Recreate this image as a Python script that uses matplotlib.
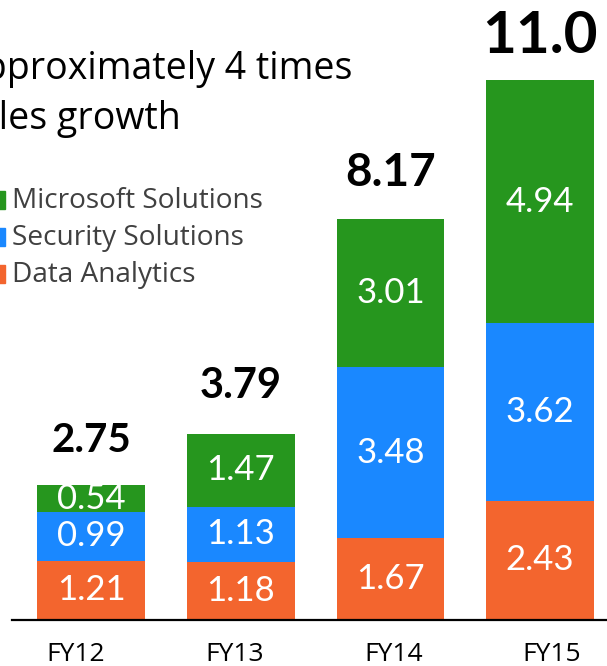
import matplotlib
matplotlib.use("Agg")
import matplotlib.pyplot as plt
from matplotlib.patches import Rectangle
import numpy as np

plt.rcParams['font.family'] = ['Open Sans', 'DejaVu Sans']

years = ["FY12", "FY13", "FY14", "FY15"]
data_analytics = [1.21, 1.18, 1.67, 2.43]
security = [0.99, 1.13, 3.48, 3.62]
microsoft = [0.54, 1.47, 3.01, 4.94]
totals = ["2.75", "3.79", "8.17", "11.0"]

series = [
    ("Data Analytics", data_analytics, "#f3652e"),
    ("Security Solutions", security, "#1a88ff"),
    ("Microsoft Solutions", microsoft, "#26961e"),
]

W, H = 607, 666
fig = plt.figure(figsize=(W / 100, H / 100), dpi=100)
ax = fig.add_axes([12 / W, 46 / H, 1 - 12 / W, 1 - 46 / H])

x = np.arange(len(years))
bottom = np.zeros(len(years))
for name, vals, color in series:
    vals = np.array(vals)
    ax.bar(x, vals, width=0.72, bottom=bottom, color=color, linewidth=0)
    for xi, b, v in zip(x, bottom, vals):
        ax.text(xi, b + v / 2, f"{v:.2f}", ha="center", va="center",
                color="white", fontsize=25, family="Lato")
    bottom = bottom + vals

# totals above each stack (the last one is drawn larger)
total_sizes = [29, 30, 33, 42]
total_gaps = [24, 26, 24, 20]
for xi, top, lab, fs, gap in zip(x, bottom, totals, total_sizes, total_gaps):
    ax.annotate(lab, (xi, top), xytext=(0, gap), textcoords="offset points",
                ha="center", va="baseline", fontsize=fs, fontweight="bold",
                family="Lato", color="black")

ax.set_xlim(-0.528, 3.447)
ax.set_ylim(0, 12.627)
ax.set_yticks([])
ax.set_xticks([])
# year labels sit on a slightly wider spacing than the bars
for xi, yr in zip(x * 1.06 - 0.1, years):
    ax.annotate(yr, (xi, 0), xytext=(0, -25), textcoords="offset points",
                ha="center", va="center", fontsize=19, color="black",
                annotation_clip=False)
for s in ["top", "right", "left"]:
    ax.spines[s].set_visible(False)
ax.spines["bottom"].set_linewidth(1.6)
ax.patch.set_alpha(0)

# heading, partly running off the left edge
fig.text(352 / W, 1 - 129 / H, "Approximately 4 times\nsales growth", ha="right",
         va="baseline", multialignment="left", fontsize=27,
         linespacing=1.42, color="black")

# legend drawn by hand
for i, (name, vals, color) in enumerate(reversed(series)):
    y = 208 + 37 * i
    fig.patches.append(Rectangle((-2 / W, 1 - (y + 1) / H), 7 / W, 18 / H,
                                 transform=fig.transFigure, color=color))
    fig.text(12 / W, 1 - y / H, name, ha="left", va="baseline",
             fontsize=20.2, color="#404040")

fig.savefig("out.png", dpi=100)
